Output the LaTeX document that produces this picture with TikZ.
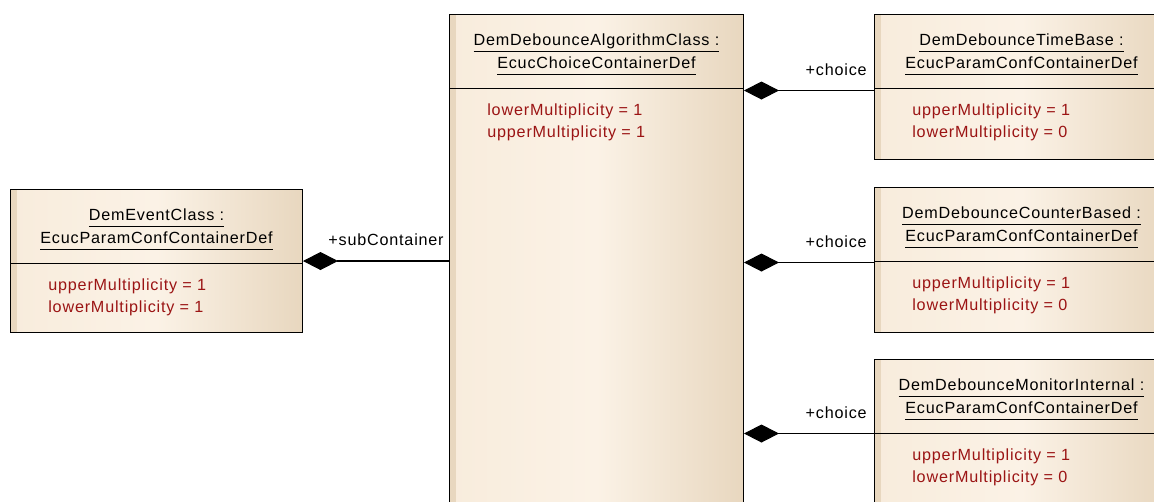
\documentclass[tikz,border=0pt]{standalone}
\usepackage{fontspec}
\setmainfont{Liberation Sans}[LetterSpace=5]
\usetikzlibrary{arrows.meta}

\definecolor{boxcream}{RGB}{248,236,220}
\definecolor{boxlight}{RGB}{251,242,230}
\definecolor{boxtan}{RGB}{232,215,191}
\definecolor{attrred}{RGB}{155,20,20}

\newcommand{\clsname}[1]{\underline{\vphantom{g}#1}}

\tikzset{
	umlclass/.style={draw, line width=0.6pt, inner sep=0pt, anchor=north west,
		left color=boxcream, right color=boxtan, middle color=boxlight,
		path picture={
			\fill[boxtan] (path picture bounding box.north west) rectangle ([xshift=0.12cm]path picture bounding box.south west);
			\draw[line width=0.6pt] ([yshift=-1.48cm]path picture bounding box.north west) -- ([yshift=-1.48cm]path picture bounding box.north east);
		}},
	ctitle/.style={align=center, inner sep=0pt, font=\fontsize{9.2}{12.8}\selectfont},
	cattr/.style={align=left, anchor=west, inner sep=0pt, text=attrred, font=\fontsize{9.2}{12.6}\selectfont},
	rolelabel/.style={anchor=base east, inner sep=0pt, font=\fontsize{9.2}{12.6}\selectfont},
	compo/.style={line width=0.6pt, {Diamond[length=0.7cm,width=0.36cm]}-}
}

\begin{document}
\begin{tikzpicture}[x=0.02cm, y=-0.02cm]
			\useasboundingbox (0,0) rectangle (1154,501);
			\clip (0,0) rectangle (1154,501);
			
			% class boxes
			\node[umlclass, minimum width=5.84cm, minimum height=2.86cm] (event) at (10,189) {};
			\node[umlclass, minimum width=5.88cm, minimum height=12.2cm] (algo) at (449,14) {};
			\node[umlclass, minimum width=5.88cm, minimum height=2.9cm] (timebase) at (874,14) {};
			\node[umlclass, minimum width=5.88cm, minimum height=2.9cm] (counter) at (874,187) {};
			\node[umlclass, minimum width=5.88cm, minimum height=2.9cm] (monitor) at (874,359) {};
			
			% titles
			\node[ctitle] (event-t) at ([yshift=-0.81cm]event.north) {\clsname{DemEventClass :}\\\clsname{EcucParamConfContainerDef}};
			\node[ctitle] (algo-t) at ([yshift=-0.81cm]algo.north) {\clsname{DemDebounceAlgorithmClass :}\\\clsname{EcucChoiceContainerDef}};
			\node[ctitle] (timebase-t) at ([yshift=-0.81cm]timebase.north) {\clsname{DemDebounceTimeBase :}\\\clsname{EcucParamConfContainerDef}};
			\node[ctitle] (counter-t) at ([yshift=-0.81cm]counter.north) {\clsname{DemDebounceCounterBased :}\\\clsname{EcucParamConfContainerDef}};
			\node[ctitle] (monitor-t) at ([yshift=-0.81cm]monitor.north) {\clsname{DemDebounceMonitorInternal :}\\\clsname{EcucParamConfContainerDef}};
			
			% attributes
			\node[cattr] (event-a) at ([xshift=0.76cm, yshift=-2.17cm]event.north west) {upperMultiplicity = 1\\lowerMultiplicity = 1};
			\node[cattr] (algo-a) at ([xshift=0.76cm, yshift=-2.17cm]algo.north west) {lowerMultiplicity = 1\\upperMultiplicity = 1};
			\node[cattr] (timebase-a) at ([xshift=0.76cm, yshift=-2.17cm]timebase.north west) {upperMultiplicity = 1\\lowerMultiplicity = 0};
			\node[cattr] (counter-a) at ([xshift=0.76cm, yshift=-2.17cm]counter.north west) {upperMultiplicity = 1\\lowerMultiplicity = 0};
			\node[cattr] (monitor-a) at ([xshift=0.76cm, yshift=-2.17cm]monitor.north west) {upperMultiplicity = 1\\lowerMultiplicity = 0};
			
			% connectors
			\coordinate (timebase-c) at ([yshift=-0.07cm]timebase.west);
			\coordinate (counter-c) at ([yshift=-0.05cm]counter.west);
			\coordinate (monitor-c) at ([yshift=-0.03cm]monitor.west);
			
			\draw[compo] (event.east) -- (event.east -| algo.west);
			\draw[compo] (algo.east |- timebase-c) -- (timebase-c);
			\draw[compo] (algo.east |- counter-c) -- (counter-c);
			\draw[compo] (algo.east |- monitor-c) -- (monitor-c);
			
			\node[rolelabel] (event-r) at ([xshift=-0.1cm, yshift=0.32cm]event.east -| algo.west) {+subContainer};
			\node[rolelabel] (timebase-r) at ([xshift=-0.14cm, yshift=0.3cm]timebase-c) {+choice};
			\node[rolelabel] (counter-r) at ([xshift=-0.14cm, yshift=0.3cm]counter-c) {+choice};
			\node[rolelabel] (monitor-r) at ([xshift=-0.14cm, yshift=0.3cm]monitor-c) {+choice};
		\end{tikzpicture}
\end{document}
